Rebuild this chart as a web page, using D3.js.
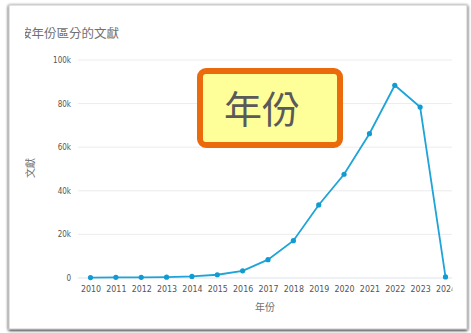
<!DOCTYPE html>
<html><head><meta charset="utf-8">
<script src="https://cdn.jsdelivr.net/npm/d3@7/dist/d3.min.js"></script>
<style>html,body{margin:0;padding:0;background:#fff;}svg{display:block;}</style>
</head><body>
<script>
const years = ["2010","2011","2012","2013","2014","2015","2016","2017","2018","2019","2020","2021","2022","2023","2024"];
const docs = [200,300,300,400,700,1500,3300,8400,17100,33500,47600,66200,88400,78400,500];
const yTicks = [0,20000,40000,60000,80000,100000];
const yTickLabels = ["0","20k","40k","60k","80k","100k"];
const titleText = "按年份區分的文獻";
const xTitle = "年份";
const yTitle = "文獻";
const calloutText = "年份";

const W = 471, H = 333;
const svg = d3.select("body").append("svg").attr("width", W).attr("height", H);
const defs = svg.append("defs");
defs.append("clipPath").attr("id","shot").append("rect").attr("x",25).attr("y",8).attr("width",427.5).attr("height",318);
const sh = defs.append("filter").attr("id","sh").attr("x","-5%").attr("y","-5%").attr("width","110%").attr("height","110%");
sh.append("feGaussianBlur").attr("in","SourceAlpha").attr("stdDeviation",1.5);
sh.append("feOffset").attr("dx",0).attr("dy",1).attr("result","b");
const fm = sh.append("feMerge"); fm.append("feMergeNode").attr("in","b"); fm.append("feMergeNode").attr("in","SourceGraphic");

// card frame
svg.append("rect").attr("x",9).attr("y",5).attr("width",458).attr("height",324)
  .attr("fill","#fff").attr("stroke","#c8c8c8").attr("stroke-width",1).attr("filter","url(#sh)");

const g = svg.append("g").attr("clip-path","url(#shot)");
const font = "'Noto Sans CJK TC','Noto Sans',sans-serif";

g.append("text").attr("x",19).attr("y",38).text(titleText)
  .attr("font-family",font).attr("font-size",12.5).attr("fill","#707070");

const x = d3.scalePoint().domain(years).range([90.5,445.5]);
const y = d3.scaleLinear().domain([0,100000]).range([278,60]);

// grid
g.selectAll("line.grid").data(yTicks).join("line").attr("class","grid")
  .attr("x1",78).attr("x2",452).attr("y1",d=>y(d)).attr("y2",d=>y(d))
  .attr("stroke",(d,i)=> i===0 ? "#dbe3ee" : "#ececec").attr("stroke-width",1);

// y axis labels
const yAxis = d3.axisLeft(y).tickValues(yTicks).tickFormat((d,i)=>yTickLabels[i]).tickSize(0).tickPadding(0);
const ya = g.append("g").attr("transform","translate(71,0)").call(yAxis);
ya.select(".domain").remove();
ya.selectAll("text").attr("font-family","'Liberation Sans Narrow','DejaVu Sans Condensed',sans-serif").attr("font-size",8).attr("fill","#555").attr("dy","0.32em");

// x axis labels
const xAxis = d3.axisBottom(x).tickSize(0).tickPadding(0);
const xa = g.append("g").attr("transform","translate(0,286)").call(xAxis);
xa.select(".domain").remove();
xa.selectAll("text").attr("font-family","'Liberation Sans Narrow','DejaVu Sans Condensed',sans-serif").attr("font-size",8.8).attr("fill","#555").attr("dy","0.71em");

// axis titles
g.append("text").attr("x",265).attr("y",311).attr("text-anchor","middle").text(xTitle)
  .attr("font-family",font).attr("font-size",10).attr("fill","#707070");
g.append("text").attr("transform","translate(34,168) rotate(-90)").attr("text-anchor","middle").text(yTitle)
  .attr("font-family",font).attr("font-size",10).attr("fill","#707070");

// line
const line = d3.line().x((d,i)=>x(years[i])).y(d=>y(d));
g.append("path").datum(docs).attr("d",line).attr("fill","none").attr("stroke","#1ea4d8").attr("stroke-width",1.8);
g.selectAll("circle.pt").data(docs).join("circle").attr("class","pt")
  .attr("cx",(d,i)=>x(years[i])).attr("cy",d=>y(d)).attr("r",2.6).attr("fill","#119bd2");

// callout
svg.append("rect").attr("x",200).attr("y",71).attr("width",140).attr("height",74).attr("rx",6)
  .attr("fill","#ffff99").attr("stroke","#ea6a0c").attr("stroke-width",6);
svg.append("text").attr("x",262).attr("y",123).attr("text-anchor","middle").text(calloutText)
  .attr("font-family",font).attr("font-size",38).attr("fill","#5a5a5a");
</script>
</body></html>
